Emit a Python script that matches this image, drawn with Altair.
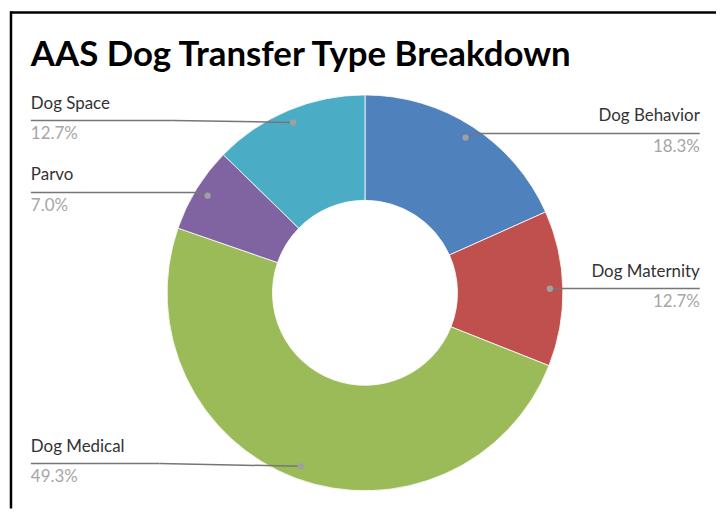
import altair as alt
import pandas as pd

# ---- data ----
categories = ["Dog Behavior", "Dog Maternity", "Dog Medical", "Parvo", "Dog Space"]
shares = [18.3, 12.7, 49.3, 7.0, 12.7]
colors = ["#4F81BD", "#C0504D", "#9BBB59", "#8064A2", "#4BACC6"]
title_text = "AAS Dog Transfer Type Breakdown"

# ---- layout (chart pixel coordinates) ----
W, H = 710, 500
CX, CY = 357, 283
R_OUT, R_IN, R_DOT = 199, 93, 186
label_side = ["right", "right", "left", "left", "left"]
label_line_y = [122.7, 278.7, 454.7, 182.0, 109.7]
bend_offset = [10, 10, -142, -10, -121]
END_RIGHT, END_LEFT = 693.7, 21

df = pd.DataFrame({
    "cat": categories,
    "share": shares,
    "idx": list(range(len(categories))),
    "side": label_side,
    "ly": label_line_y,
    "boff": bend_offset,
})

base = alt.Chart(df).transform_window(
    cum="sum(share)", sort=[{"field": "idx"}]
).transform_calculate(
    mid="(datum.cum - datum.share / 2) / 100 * 2 * PI",
).transform_calculate(
    dotx=f"{CX} + {R_DOT} * sin(datum.mid)",
    doty=f"{CY} - {R_DOT} * cos(datum.mid)",
).transform_calculate(
    bx="datum.dotx + datum.boff",
    endx=f"datum.side == 'right' ? {END_RIGHT} : {END_LEFT}",
    ny="datum.ly - 12",
    py="datum.ly + 19",
    pct="format(datum.share, '.1f') + '%'",
)

noscale = dict(scale=None, axis=None)

pie = alt.Chart(df).mark_arc(
    innerRadius=R_IN, outerRadius=R_OUT, stroke="white", strokeWidth=0.8
).encode(
    theta=alt.Theta("share:Q", stack=True),
    color=alt.Color("cat:N", scale=alt.Scale(domain=categories, range=colors), legend=None),
    order=alt.Order("idx:Q"),
    x=alt.value(CX),
    y=alt.value(CY),
)

LINE_COLOR = "#767676"
seg1 = base.mark_rule(color=LINE_COLOR, strokeWidth=1.5).encode(
    x=alt.X("dotx:Q", **noscale), y=alt.Y("doty:Q", **noscale),
    x2="bx:Q", y2="ly:Q",
)
seg2 = base.mark_rule(color=LINE_COLOR, strokeWidth=1.5).encode(
    x=alt.X("bx:Q", **noscale), y=alt.Y("ly:Q", **noscale),
    x2="endx:Q", y2="ly:Q",
)
dots = base.mark_circle(color="#a0a0a0", opacity=1, size=40).encode(
    x=alt.X("dotx:Q", **noscale), y=alt.Y("doty:Q", **noscale),
)

def labels(side, align):
    b = base.transform_filter(f"datum.side == '{side}'")
    name = b.mark_text(align=align, baseline="alphabetic", font="Lato", fontSize=17,
                       color="#333333").encode(
        x=alt.X("endx:Q", **noscale), y=alt.Y("ny:Q", **noscale), text="cat:N")
    pct = b.mark_text(align=align, baseline="alphabetic", font="Lato", fontSize=17,
                      color="#a6a6a6").encode(
        x=alt.X("endx:Q", **noscale), y=alt.Y("py:Q", **noscale), text="pct:N")
    return name + pct

title = alt.Chart(pd.DataFrame({"t": [title_text]})).mark_text(
    align="left", baseline="alphabetic", font="Lato", fontWeight="bold",
    fontSize=35, color="black"
).encode(x=alt.value(21), y=alt.value(55), text="t:N")

frame_top = alt.Chart(pd.DataFrame({"a": [0]})).mark_rule(color="black", strokeWidth=2.5).encode(
    x=alt.value(0), x2=alt.value(W), y=alt.value(1))
frame_left = alt.Chart(pd.DataFrame({"a": [0]})).mark_rule(color="black", strokeWidth=2.5).encode(
    x=alt.value(1), y=alt.value(0), y2=alt.value(H))

chart = alt.layer(
    frame_top, frame_left, pie, seg1, seg2, dots,
    labels("right", "right"), labels("left", "left"), title
).properties(width=W, height=H, padding=0, background="white").configure_view(stroke=None)

chart.save("out.html", embed_options={"renderer": "svg", "actions": False})
